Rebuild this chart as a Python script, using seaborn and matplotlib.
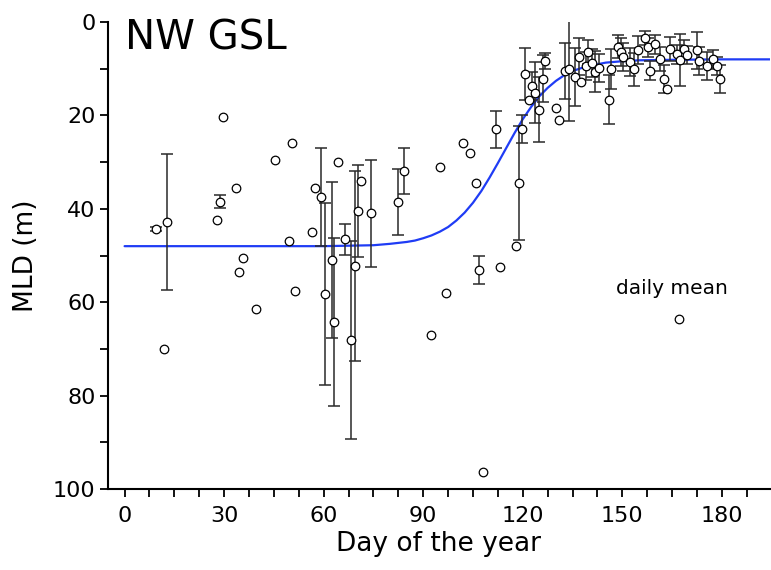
import numpy as np
import pandas as pd
import matplotlib
matplotlib.use("Agg")
import matplotlib.pyplot as plt
import seaborn as sns

# ---- data ----
day = [9.6, 12.8, 11.8, 27.7, 28.7, 29.7, 33.6, 34.6, 35.6, 39.5,
       45.4, 49.4, 50.5, 51.4, 56.4, 57.3, 59.3, 60.5, 62.4, 63.2,
       64.4, 66.4, 68.3, 69.3, 70.4, 71.3, 74.3, 82.3, 84.2, 92.2,
       95.0, 97.0, 102.0, 104.0, 106.0, 106.8, 108.0, 111.9, 113.1, 117.9,
       118.9, 119.9, 120.8, 121.8, 122.8, 123.8, 124.9, 126.0, 126.8, 130.0,
       130.8, 132.8, 133.9, 135.8, 136.8, 137.6, 138.9, 139.6, 140.9, 141.7,
       143.0, 146.0, 146.6, 148.7, 149.7, 150.2, 152.2, 153.4, 154.7, 156.7,
       157.7, 158.3, 159.7, 161.5, 162.7, 163.5, 164.5, 166.5, 167.5, 168.5,
       169.5, 172.5, 173.2, 175.4, 177.4, 178.4, 179.5, 167.2]
mld = [44.3, 42.8, 70.0, 42.5, 38.5, 20.4, 35.5, 53.5, 50.5, 61.5,
       29.5, 47.0, 26.0, 57.5, 45.0, 35.5, 37.4, 58.2, 51.0, 64.2,
       30.0, 46.5, 68.1, 52.2, 40.5, 34.0, 41.0, 38.5, 31.9, 67.1,
       31.0, 58.0, 26.0, 28.0, 34.5, 53.1, 96.4, 23.0, 52.5, 48.0,
       34.5, 23.0, 11.2, 16.6, 13.7, 15.1, 18.8, 12.1, 8.3, 18.5,
       21.0, 10.4, 10.1, 11.7, 7.4, 12.9, 9.4, 6.4, 8.7, 10.6,
       9.9, 16.6, 10.1, 5.3, 6.4, 7.4, 8.5, 10.1, 6.1, 3.4,
       5.4, 10.4, 4.8, 7.9, 12.2, 14.4, 5.8, 6.9, 8.1, 5.8,
       7.1, 6.1, 8.3, 9.4, 8.0, 9.4, 12.2, 63.6]
err = [0.5, 14.5, np.nan, np.nan, 1.4, np.nan, np.nan, np.nan, np.nan, np.nan,
       np.nan, np.nan, np.nan, np.nan, np.nan, np.nan, 10.5, 19.5, 16.7, 18.0,
       np.nan, 3.3, 21.3, 20.3, 9.9, np.nan, 11.4, 7.1, 4.9, np.nan,
       np.nan, np.nan, np.nan, np.nan, np.nan, 2.9, np.nan, 3.9, np.nan, np.nan,
       12.2, 3.0, 5.6, np.nan, 3.0, 6.5, 7.0, 5.1, 1.7, np.nan,
       np.nan, 6.0, 11.0, 6.2, 4.0, np.nan, 3.0, 2.5, 3.0, 4.3,
       3.0, 5.2, 4.3, 2.5, 3.0, 3.0, 3.0, 3.5, 3.0, 1.5,
       2.0, 2.0, 2.0, 2.5, 3.0, np.nan, 2.5, 2.0, 5.6, 2.0,
       2.0, 4.0, 3.0, 3.0, 2.0, 2.0, 3.0, np.nan]

# fitted curve, values
curve_day = [0, 20, 40, 60, 75, 80, 85, 87.5, 90, 92.5, 95, 97.5, 100, 102.5,
             105, 107.5, 110, 112.5, 115, 117.5, 120, 122.5, 125, 127.5, 130,
             132.5, 135, 137.5, 140, 145, 150, 155, 165, 180, 195]
curve_mld = [48.0, 48.0, 48.0, 48.0, 47.8, 47.5, 47.1, 46.8, 46.3, 45.7, 44.9,
             43.9, 42.5, 40.8, 38.7, 36.2, 33.3, 30.2, 27.0, 23.8, 20.8, 18.2,
             15.9, 14.1, 12.6, 11.4, 10.5, 9.9, 9.4, 8.7, 8.4, 8.2, 8.1, 8.0, 8.0]

x_ticks = [0, 30, 60, 90, 120, 150, 180]
y_ticks = [0, 20, 40, 60, 80, 100]

df = pd.DataFrame({"day": day, "mld": mld, "err": err})
cdf = pd.DataFrame({"day": curve_day, "mld": curve_mld})

sns.set_theme(style="ticks")
plt.rcParams["font.family"] = ["DejaVu Sans"]

fig = plt.figure(figsize=(7.71, 5.70), dpi=100)
ax = fig.add_axes([108 / 771, 81 / 570, 662 / 771, 467 / 570])

sns.lineplot(data=cdf, x="day", y="mld", ax=ax, color="#1f3cf5", lw=1.6,
             zorder=2, sort=False)

e = df.dropna(subset=["err"])
ax.errorbar(e["day"], e["mld"], yerr=e["err"], fmt="none", ecolor="#2a2a2a",
            elinewidth=1.1, capsize=4.5, capthick=1.1, zorder=3)

sns.scatterplot(data=df, x="day", y="mld", ax=ax, marker="o", s=38,
                facecolor="white", edgecolor="black", linewidth=0.9, zorder=4)

ax.set_xlim(-5, 194.5)
ax.set_ylim(100, 0)
ax.set_xticks(x_ticks)
ax.set_yticks(y_ticks)
ax.set_xticks(np.arange(0, 195, 7.5), minor=True)
ax.set_yticks(np.arange(10, 100, 20), minor=True)
ax.tick_params(axis="both", which="major", length=6, width=1.3, labelsize=16,
               color="black", labelcolor="black", direction="out", pad=3)
ax.tick_params(axis="both", which="minor", length=6, width=1.3, color="black",
               direction="out")
ax.tick_params(axis="x", pad=6)

for s in ["top", "right"]:
    ax.spines[s].set_visible(False)
for s in ["left", "bottom"]:
    ax.spines[s].set_color("black")
    ax.spines[s].set_linewidth(1.5)

ax.set_xlabel("Day of the year", fontsize=19, color="black", labelpad=4)
ax.set_ylabel("MLD (m)", fontsize=19, color="black", labelpad=10)

ax.text(0, -0.8, "NW GSL", fontsize=29, color="black", va="top", ha="left")
ax.text(165, 57, "daily mean", fontsize=14.5, color="black", ha="center",
        va="center")

fig.savefig("out.png", dpi=100)
